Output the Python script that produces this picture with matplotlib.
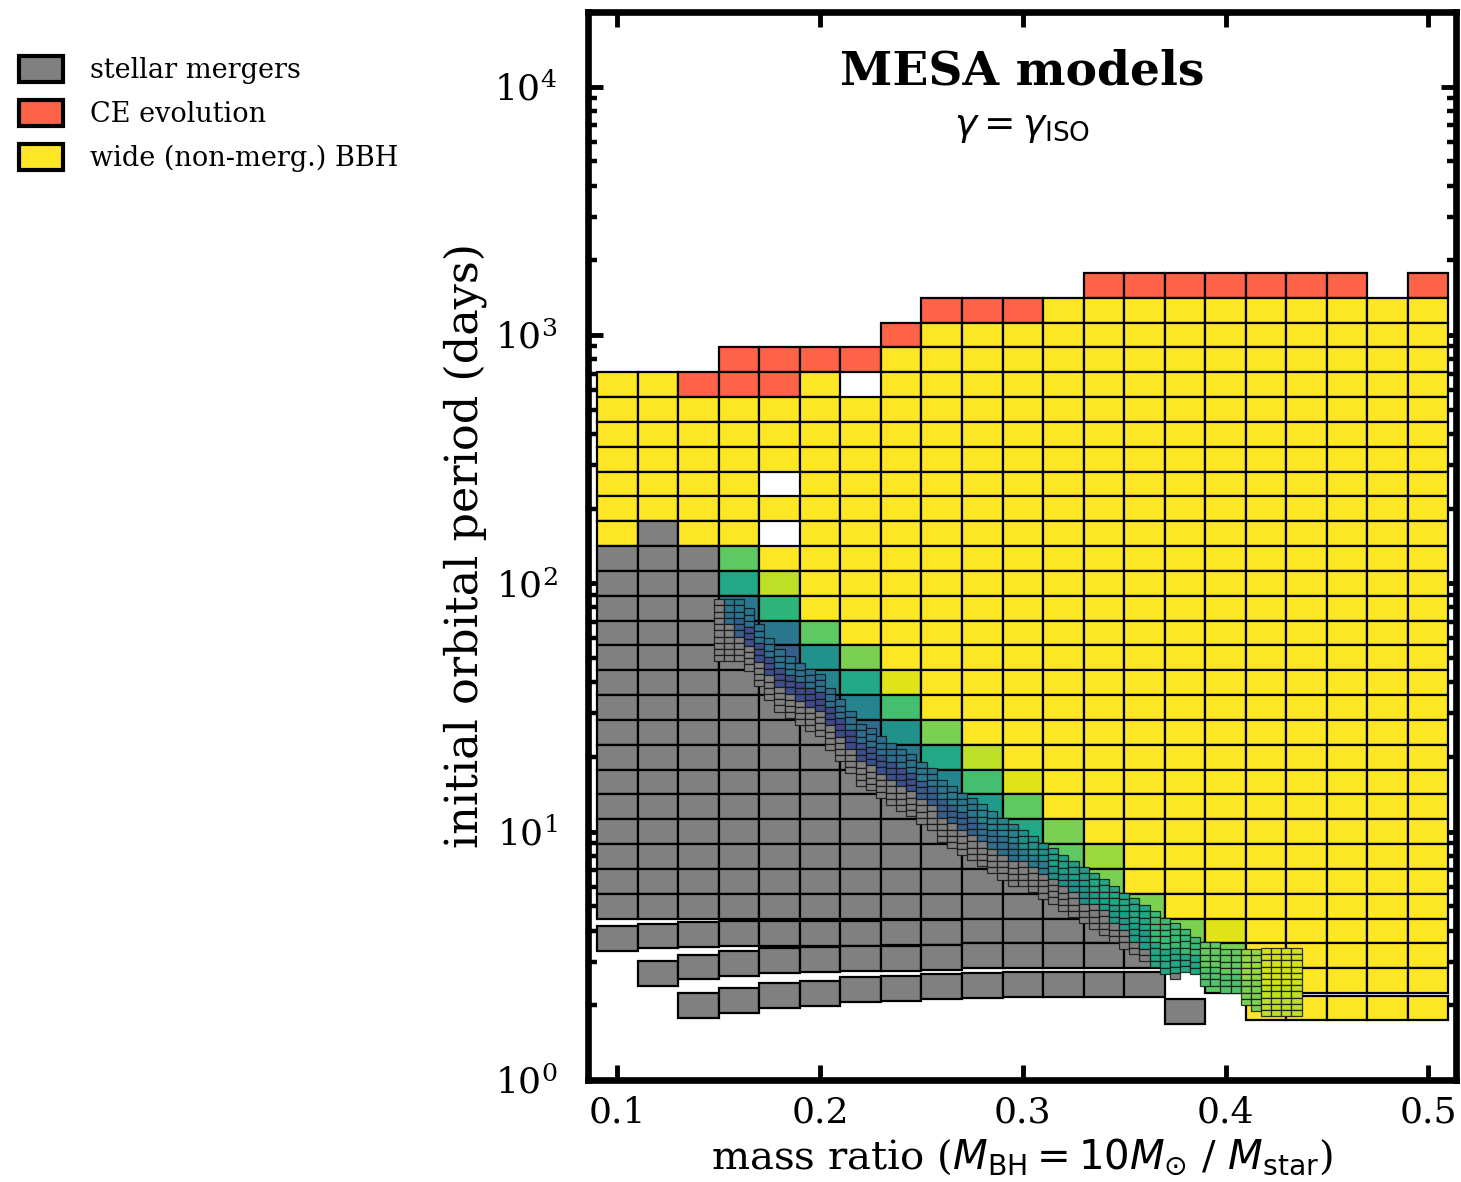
import matplotlib
matplotlib.use("Agg")
import matplotlib.pyplot as plt
from matplotlib.patches import Patch
from matplotlib.transforms import Bbox, TransformedBbox
from matplotlib.ticker import LogLocator, NullLocator, NullFormatter

plt.rcParams['font.family'] = ['DejaVu Serif']
plt.rcParams['mathtext.fontset'] = 'dejavusans'

# ---------------- data ----------------
mass_ratio = [0.10, 0.12, 0.14, 0.16, 0.18, 0.20, 0.22, 0.24, 0.26, 0.28, 0.30,
              0.32, 0.34, 0.36, 0.38, 0.40, 0.42, 0.44, 0.46, 0.48, 0.50]

# coarse grid rows (log10 P centres), one character per mass-ratio column
# G = stellar merger, R = CE evolution, Y = wide BBH, . = no model,
# a..t = merging BBH coloured on viridis (a=0.00 ... t=0.95)
coarse_logP = [3.2, 3.1, 3.0, 2.9, 2.8, 2.7, 2.6, 2.5, 2.4, 2.3, 2.2, 2.1, 2.0,
               1.9, 1.8, 1.7, 1.6, 1.5, 1.4, 1.3, 1.2, 1.1, 1.0, 0.9, 0.8, 0.7]
coarse_rows = [
    "............RRRRRRR.R",
    "........RRRYYYYYYYYYY",
    ".......RYYYYYYYYYYYYY",
    "...RRRRYYYYYYYYYYYYYY",
    "YYRRRY.YYYYYYYYYYYYYY",
    "YYYYYYYYYYYYYYYYYYYYY",
    "YYYYYYYYYYYYYYYYYYYYY",
    "YYYYYYYYYYYYYYYYYYYYY",
    "YYYY.YYYYYYYYYYYYYYYY",
    "YYYYYYYYYYYYYYYYYYYYY",
    "YGYY.YYYYYYYYYYYYYYYY",
    "GGGpYYYYYYYYYYYYYYYYY",
    "GGGmsYYYYYYYYYYYYYYYY",
    "GGGinYYYYYYYYYYYYYYYY",
    "GGGhipYYYYYYYYYYYYYYY",
    "GGGGgkqYYYYYYYYYYYYYY",
    "GGGGGjmtYYYYYYYYYYYYY",
    "GGGGGgjoYYYYYYYYYYYYY",
    "GGGGGGhkqYYYYYYYYYYYY",
    "GGGGGGGimsYYYYYYYYYYY",
    "GGGGGGGGjotYYYYYYYYYY",
    "GGGGGGGGGlpYYYYYYYYYY",
    "GGGGGGGGGGmqYYYYYYYYY",
    "GGGGGGGGGGGprYYYYYYYY",
    "GGGGGGGGGGGGqYYYYYYYY",
    "GGGGGGGGGGGGGqYYYYYYY",
]

# lowest (short-period) coarse models, not on the regular period grid
low_col = [0, 1, 1, 2, 2, 2, 3, 3, 3, 4, 4, 4, 5, 5, 5, 6, 6, 6, 7, 7, 7,
           8, 8, 8, 9, 9, 9, 10, 10, 10, 11, 11, 11, 12, 12, 12, 13, 13, 13,
           14, 14, 14, 15, 15, 15, 16, 16, 16, 16, 17, 17, 17, 17,
           18, 18, 18, 18, 19, 19, 19, 19, 20, 20, 20, 20]
low_logP = [0.57, 0.58, 0.43, 0.585, 0.455, 0.30, 0.59, 0.47, 0.32,
            0.59, 0.48, 0.34, 0.59, 0.485, 0.35, 0.59, 0.49, 0.365,
            0.595, 0.49, 0.37, 0.595, 0.495, 0.375, 0.60, 0.50, 0.38,
            0.60, 0.50, 0.385, 0.60, 0.50, 0.385, 0.60, 0.50, 0.385,
            0.60, 0.50, 0.385, 0.60, 0.50, 0.275, 0.60, 0.50, 0.40,
            0.60, 0.50, 0.40, 0.29, 0.60, 0.50, 0.40, 0.29,
            0.60, 0.50, 0.40, 0.29, 0.60, 0.50, 0.40, 0.29, 0.60, 0.50, 0.40, 0.29]
low_code = ['G', 'G', 'G', 'G', 'G', 'G', 'G', 'G', 'G', 'G', 'G', 'G',
            'G', 'G', 'G', 'G', 'G', 'G', 'G', 'G', 'G', 'G', 'G', 'G',
            'G', 'G', 'G', 'G', 'G', 'G', 'G', 'G', 'G', 'G', 'G', 'G',
            'l', 'G', 'G', 'q', 'o', 'G', 't', 'q', 'p',
            'Y', 'Y', 'Y', 'Y', 'Y', 'Y', 'Y', 'Y', 'Y', 'Y', 'Y', 'Y',
            'Y', 'Y', 'Y', 'Y', 'Y', 'Y', 'Y', 'Y']

# fine-resolution models along the boundary (dq = 0.005, dlogP = 0.025)
fine_q = [0.150, 0.155, 0.160, 0.165, 0.170, 0.175, 0.180, 0.185, 0.190, 0.195,
          0.200, 0.205, 0.210, 0.215, 0.220, 0.225, 0.230, 0.235, 0.240, 0.245,
          0.250, 0.255, 0.260, 0.265, 0.270, 0.275, 0.280, 0.285, 0.290, 0.295,
          0.300, 0.305, 0.310, 0.315, 0.320, 0.325, 0.330, 0.335, 0.340, 0.345,
          0.350, 0.355, 0.360, 0.365, 0.370, 0.375, 0.380, 0.385, 0.390, 0.395,
          0.400, 0.405, 0.410, 0.415, 0.420, 0.425, 0.430, 0.435]
fine_top = [1.936, 1.936, 1.936, 1.899, 1.835, 1.779, 1.734, 1.706, 1.678, 1.654,
            1.636, 1.578, 1.533, 1.485, 1.433, 1.417, 1.384, 1.357, 1.332, 1.312,
            1.281, 1.257, 1.207, 1.183, 1.156, 1.136, 1.111, 1.082, 1.057, 1.030,
            1.006, 0.982, 0.955, 0.935, 0.905, 0.881, 0.857, 0.833, 0.809, 0.781,
            0.754, 0.732, 0.704, 0.680, 0.653, 0.632, 0.608, 0.577, 0.555, 0.555,
            0.527, 0.527, 0.527, 0.527, 0.532, 0.532, 0.532, 0.532]
fine_ncolor = [0, 4, 6, 6, 6, 6, 6, 6, 6, 6,
               6, 6, 6, 6, 6, 6, 6, 6, 6, 6,
               6, 6, 6, 6, 6, 6, 6, 6, 6, 6,
               5, 5, 5, 5, 5, 5, 6, 5, 5, 6,
               6, 7, 7, 9, 9, 8, 7, 6, 7, 7,
               7, 7, 9, 10, 11, 11, 11, 11]
fine_ngray = [10, 6, 4, 4, 4, 4, 4, 4, 4, 4,
              4, 4, 4, 4, 4, 4, 4, 4, 4, 4,
              4, 4, 4, 4, 4, 4, 4, 4, 4, 4,
              4, 4, 4, 4, 4, 4, 3, 4, 4, 3,
              3, 2, 2, 0, 0, 0, 0, 0, 0, 0,
              0, 0, 0, 0, 0, 0, 0, 0]
fine_val_hi = [0.40, 0.40, 0.40, 0.38, 0.38, 0.38, 0.38, 0.38, 0.36, 0.36,
               0.36, 0.36, 0.36, 0.36, 0.36, 0.36, 0.36, 0.36, 0.36, 0.36,
               0.40, 0.40, 0.40, 0.40, 0.40, 0.40, 0.45, 0.45, 0.45, 0.45,
               0.50, 0.50, 0.50, 0.56, 0.56, 0.56, 0.56, 0.60, 0.60, 0.60,
               0.60, 0.60, 0.60, 0.68, 0.68, 0.68, 0.68, 0.68, 0.76, 0.76,
               0.76, 0.76, 0.84, 0.84, 0.93, 0.93, 0.93, 0.93]
fine_val_lo = [0.40, 0.36, 0.30, 0.24, 0.24, 0.24, 0.24, 0.24, 0.22, 0.22,
               0.22, 0.22, 0.22, 0.22, 0.25, 0.25, 0.25, 0.25, 0.25, 0.25,
               0.30, 0.30, 0.30, 0.30, 0.30, 0.30, 0.36, 0.36, 0.36, 0.36,
               0.42, 0.42, 0.42, 0.50, 0.50, 0.50, 0.50, 0.56, 0.56, 0.56,
               0.56, 0.56, 0.56, 0.60, 0.60, 0.60, 0.60, 0.60, 0.72, 0.72,
               0.72, 0.72, 0.80, 0.80, 0.90, 0.90, 0.90, 0.90]
fine_extra_q = [0.375]
fine_extra_logP = [0.42]

legend_labels = ['stellar mergers', 'CE evolution', 'wide (non-merg.) BBH']

# ---------------- styling ----------------
GRAY = '#808080'
RED = '#ff6347'
YEL = '#fde725'
cmap = plt.get_cmap('viridis')
LEVELS = 'abcdefghijklmnopqrst'
DQ, DLP = 0.02, 0.1
FDQ, FDLP = 0.005, 0.025


def code_color(ch):
    if ch == 'G':
        return GRAY
    if ch == 'R':
        return RED
    if ch == 'Y':
        return YEL
    return cmap(LEVELS.index(ch) * 0.05)


fig = plt.figure(figsize=(14.61, 11.82), dpi=100)
ax = fig.add_axes([588 / 1461, 1 - 1080 / 1182, (1456 - 588) / 1461, (1080 - 12) / 1182])
ax.set_yscale('log')

# coarse cells
cx, cb, ch_, cc = [], [], [], []
for lp, row in zip(coarse_logP, coarse_rows):
    for j, ch in enumerate(row):
        if ch == '.':
            continue
        lo, hi = 10 ** (lp - DLP / 2), 10 ** (lp + DLP / 2)
        cx.append(mass_ratio[j]); cb.append(lo); ch_.append(hi - lo); cc.append(code_color(ch))
for j, lp, ch in zip(low_col, low_logP, low_code):
    lo, hi = 10 ** (lp - DLP / 2), 10 ** (lp + DLP / 2)
    cx.append(mass_ratio[j]); cb.append(lo); ch_.append(hi - lo); cc.append(code_color(ch))
ax.bar(cx, ch_, bottom=cb, width=DQ, color=cc, edgecolor='black', linewidth=1.6, zorder=2)

# fine cells
fx, fb, fh, fc = [], [], [], []
for q, top, nc, ng, vh, vl in zip(fine_q, fine_top, fine_ncolor, fine_ngray,
                                  fine_val_hi, fine_val_lo):
    nhi = (nc + 1) // 2
    for k in range(nc + ng):
        up = top - k * FDLP
        lo = up - FDLP
        if k < nhi:
            col = cmap(vh)
        elif k < nc:
            col = cmap(vl)
        else:
            col = GRAY
        fx.append(q); fb.append(10 ** lo); fh.append(10 ** up - 10 ** lo); fc.append(col)
for q, lp in zip(fine_extra_q, fine_extra_logP):
    lo, up = lp - FDLP / 2, lp + FDLP / 2
    fx.append(q); fb.append(10 ** lo); fh.append(10 ** up - 10 ** lo); fc.append(GRAY)
ax.bar(fx, fh, bottom=fb, width=FDQ, color=fc, edgecolor=(0.08, 0.08, 0.08, 0.85),
       linewidth=0.9, zorder=3)

ax.set_xlim(0.0855, 0.5137)
ax.set_ylim(1, 2e4)
ax.set_xticks([0.1, 0.2, 0.3, 0.4, 0.5])
ax.set_xticklabels(['0.1', '0.2', '0.3', '0.4', '0.5'])
ax.xaxis.set_minor_locator(NullLocator())
ax.yaxis.set_major_locator(LogLocator(base=10, numticks=10))
ax.yaxis.set_minor_locator(LogLocator(base=10, subs=[2, 3, 4, 5, 6, 7, 8, 9], numticks=20))
ax.yaxis.set_minor_formatter(NullFormatter())
ax.tick_params(which='both', direction='in', top=True, right=True)
ax.tick_params(which='major', length=11, width=3.5, labelsize=26)
ax.tick_params(which='minor', length=6.5, width=3.2)
ax.tick_params(axis='x', pad=11)
ax.tick_params(axis='y', pad=22)
for s in ax.spines.values():
    s.set_linewidth(4.8)

ax.set_xlabel(r'mass ratio ($M_{\rm BH} = 10M_{\odot}$ / $M_{\rm star}$)', fontsize=29, labelpad=5)
ax.set_ylabel('initial orbital period (days)', fontsize=32, labelpad=5)

ax.text(0.5, 0.944, 'MESA models', transform=ax.transAxes, ha='center', va='center',
        fontsize=34, fontweight='bold')
ax.text(0.5, 0.892, r'$\gamma = \gamma_{\rm ISO}$', transform=ax.transAxes, ha='center',
        va='center', fontsize=27)

handles = [Patch(facecolor=GRAY, edgecolor='black', linewidth=3),
           Patch(facecolor=RED, edgecolor='black', linewidth=3),
           Patch(facecolor=YEL, edgecolor='black', linewidth=3)]
leg = fig.legend(handles, legend_labels, loc='upper left',
                 bbox_to_anchor=(19 / 1461, 1 - 56 / 1182), frameon=False, fontsize=19.5,
                 handlelength=1.62, handleheight=1.1, handletextpad=1.0,
                 labelspacing=0.58, borderpad=0, borderaxespad=0)
clip = TransformedBbox(Bbox.from_extents(0, 0, 400 / 1461, 1), fig.transFigure)
for t in leg.get_texts():
    t.set_clip_box(clip)
    t.set_clip_on(True)

fig.savefig('out.png', dpi=100)
